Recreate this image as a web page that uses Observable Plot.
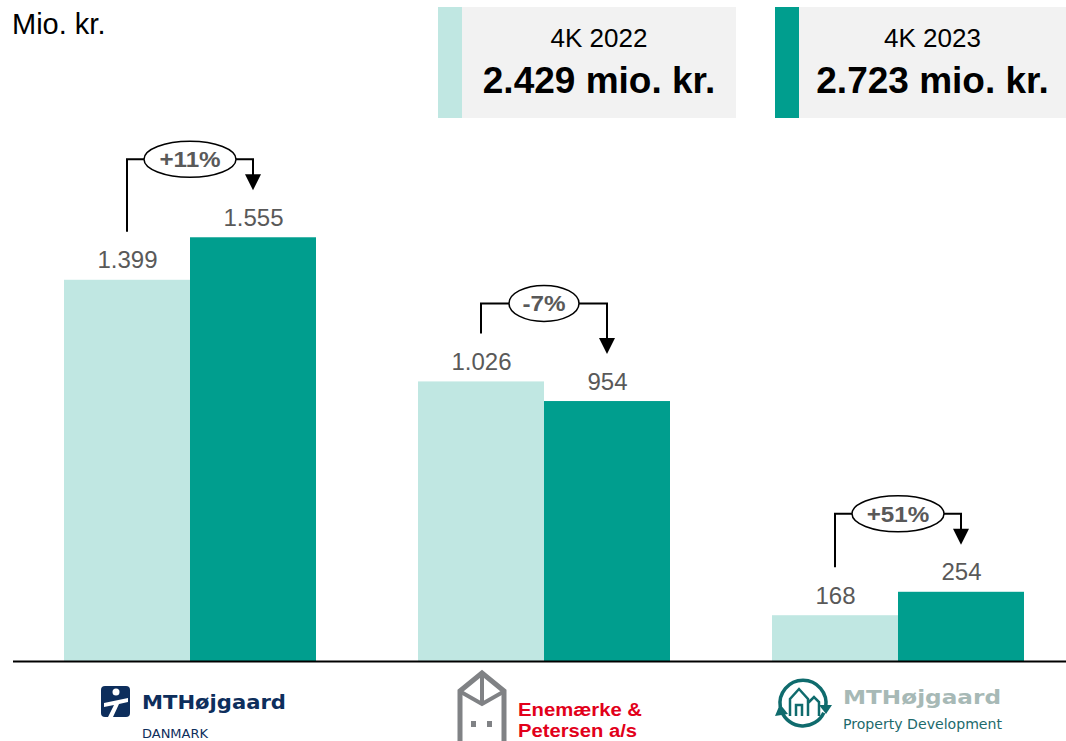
<!DOCTYPE html>
<html><head><meta charset="utf-8">
<script src="https://cdn.jsdelivr.net/npm/d3@7"></script>
<script src="https://cdn.jsdelivr.net/npm/@observablehq/plot@0.6"></script>
<style>
html,body{margin:0;padding:0;background:#fff;}
#wrap{position:relative;width:1066px;height:741px;overflow:hidden;font-family:"Liberation Sans",Arial,sans-serif;}
#unit{position:absolute;left:12px;top:10px;font-size:29px;line-height:1;color:#000;}
.box{position:absolute;top:7px;height:111px;background:#f2f2f2;}
.stripe{position:absolute;left:0;top:0;bottom:0;width:24px;}
.box .t1{position:absolute;left:24px;right:0;top:18px;text-align:center;font-size:26px;line-height:1;color:#000;}
.box .t2{position:absolute;left:24px;right:0;top:55px;text-align:center;font-size:37px;line-height:1;font-weight:bold;color:#000;}
#chart{position:absolute;left:0;top:125px;}
#logos{position:absolute;left:0;top:665px;}
</style>
</head><body>
<div id="wrap">
  <div id="unit">Mio. kr.</div>
  <div id="legend"></div>
  <div id="chart"></div>
  <svg id="logos" width="1066" height="76" viewBox="0 665 1066 76">
    <!-- MTHøjgaard Danmark -->
    <rect x="101" y="686" width="29" height="31" rx="4" fill="#0d2e5c"/>
    <circle cx="116" cy="692" r="3.5" fill="#fff"/>
    <path d="M104,703 L128,698 L128,702 L119,704 L113,717 L108,717 L114,705 L104,707 Z" fill="#fff"/>
    <text x="142" y="709" font-family="DejaVu Sans" font-weight="bold" font-size="20" fill="#0d2e5c" textLength="144" lengthAdjust="spacingAndGlyphs">MTHøjgaard</text>
    <text x="142" y="738" font-family="DejaVu Sans" font-size="12" fill="#0d2e5c" textLength="66" lengthAdjust="spacingAndGlyphs">DANMARK</text>
    <!-- Enemærke & Petersen -->
    <path d="M460,742 V691 L482,673 L504,691 V742" fill="none" stroke="#808285" stroke-width="5"/>
    <path d="M482,673 V704 M461,692 L482,704 L503,692" fill="none" stroke="#808285" stroke-width="4"/>
    <rect x="471" y="721" width="5" height="6" fill="#808285"/>
    <rect x="487" y="721" width="5" height="6" fill="#808285"/>
    <text x="518" y="716" font-family="Liberation Sans, Arial, sans-serif" font-weight="bold" font-size="18" fill="#e2001a" textLength="124" lengthAdjust="spacingAndGlyphs">Enemærke &amp;</text>
    <text x="518" y="737" font-family="Liberation Sans, Arial, sans-serif" font-weight="bold" font-size="18" fill="#e2001a" textLength="119" lengthAdjust="spacingAndGlyphs">Petersen a/s</text>
    <!-- MTHøjgaard Property Development -->
    <path d="M780.3,707 A23,23 0 1 1 825.7,707" fill="none" stroke="#0f6b6d" stroke-width="3.5"/>
    <path d="M819,705 L832,705 L826,714 Z" fill="#0f6b6d"/>
    <path d="M823.8,712.7 A23,23 0 0 1 781.4,710.9" fill="none" stroke="#0f6b6d" stroke-width="3.5"/>
    <path d="M775,716 L788,714 L780,704 Z" fill="#0f6b6d"/>
    <path d="M790,716 V699 L799,689 L808,699 V716 M796,716 V705 H802 V716 M808,703 L814,697 L819,702 V716" fill="none" stroke="#0f6b6d" stroke-width="2.5"/>
    <text x="843" y="704" font-family="DejaVu Sans" font-weight="bold" font-size="20" fill="#a7b9b6" textLength="158" lengthAdjust="spacingAndGlyphs">MTHøjgaard</text>
    <text x="843" y="729" font-family="DejaVu Sans" font-size="14" fill="#1d6a6c" textLength="159" lengthAdjust="spacingAndGlyphs">Property Development</text>
  </svg>
</div>
<script>
// ---- data ----
const companies = ["MTHøjgaard Danmark", "Enemærke & Petersen a/s", "MTHøjgaard Property Development"];
const years = ["4K 2022", "4K 2023"];
const values2022 = [1399, 1026, 168];
const values2023 = [1555, 954, 254];
const totals = [2429, 2723];
const colors = ["#c0e7e2", "#009e8e"];

const loc = d3.formatLocale({decimal: ",", thousands: ".", grouping: [3], currency: ["", ""]});
const fmt = loc.format(",d");
const changes = companies.map((c, i) => {
  const p = Math.round((values2023[i] / values2022[i] - 1) * 100);
  return (p > 0 ? "+" : "") + p + "%";
});

const rows2022 = companies.map((c, i) => ({company: c, year: years[0], value: values2022[i]}));
const rows2023 = companies.map((c, i) => ({company: c, year: years[1], value: values2023[i]}));

// ---- legend boxes ----
const legend = document.getElementById("legend");
const boxPos = [{left: 438, width: 298}, {left: 775, width: 291}];
years.forEach((y, i) => {
  const b = document.createElement("div");
  b.className = "box";
  b.style.left = boxPos[i].left + "px";
  b.style.width = boxPos[i].width + "px";
  b.innerHTML = `<div class="stripe" style="background:${colors[i]}"></div><div class="t1">${y}</div><div class="t2">${fmt(totals[i])} mio. kr.</div>`;
  legend.appendChild(b);
});

// ---- annotation render mark ----
function annotations(index, scales) {
  const xs = scales.x, ys = scales.y;
  const bw = typeof xs.bandwidth === "function" ? xs.bandwidth() : 252;
  const g = d3.create("svg:g");
  companies.forEach((c, i) => {
    const x0 = xs(c);
    const xl = x0 + bw / 4, xr = x0 + 3 * bw / 4, xc = x0 + bw / 2;
    const yA = ys(values2022[i]) - 48;
    const yB = ys(values2023[i]) - 47;
    const yBr = Math.min(ys(values2022[i]), ys(values2023[i])) - 78;
    g.append("path")
      .attr("d", `M${xl},${yA}V${yBr}H${xr}V${yB - 14}`)
      .attr("fill", "none").attr("stroke", "#000").attr("stroke-width", 2);
    g.append("path")
      .attr("d", `M${xr - 8},${yB - 16}L${xr + 8},${yB - 16}L${xr},${yB}Z`)
      .attr("fill", "#000");
    const label = changes[i];
    const rx = 11 * label.length + 2, ry = 18;
    g.append("ellipse").attr("cx", xc).attr("cy", yBr).attr("rx", rx).attr("ry", ry)
      .attr("fill", "#fff").attr("stroke", "#000").attr("stroke-width", 1.5);
    g.append("text")
      .attr("transform", `translate(${xc},${yBr}) scale(1.1,1)`)
      .attr("text-anchor", "middle").attr("dy", "0.36em")
      .attr("font-size", 22).attr("font-weight", "bold")
      .attr("font-family", "Liberation Sans, Arial, sans-serif")
      .attr("fill", "#595959").text(label);
  });
  return g.node();
}

const chart = Plot.plot({
  width: 1066,
  height: 545,
  marginTop: 0,
  marginBottom: 9,
  marginLeft: 25,
  marginRight: 3,
  style: {fontFamily: "Liberation Sans, Arial, sans-serif", background: "transparent", overflow: "visible"},
  x: {domain: companies, paddingInner: 0.288, paddingOuter: 0.11, axis: null},
  y: {domain: [0, 1967], axis: null},
  color: {domain: years, range: colors},
  marks: [
    Plot.barY(rows2022, {x: "company", y: "value", fill: "year", insetRight: 126}),
    Plot.barY(rows2023, {x: "company", y: "value", fill: "year", insetLeft: 126}),
    Plot.text(rows2022, {x: "company", y: "value", text: d => fmt(d.value), dx: -63, dy: -12, lineAnchor: "bottom", fontSize: 24, fill: "#595959"}),
    Plot.text(rows2023, {x: "company", y: "value", text: d => fmt(d.value), dx: 63, dy: -12, lineAnchor: "bottom", fontSize: 24, fill: "#595959"}),
    Plot.ruleY([0], {stroke: "#000", strokeWidth: 2, insetLeft: -12, insetRight: -3}),
    annotations
  ]
});
document.getElementById("chart").appendChild(chart);
</script>
</body></html>
